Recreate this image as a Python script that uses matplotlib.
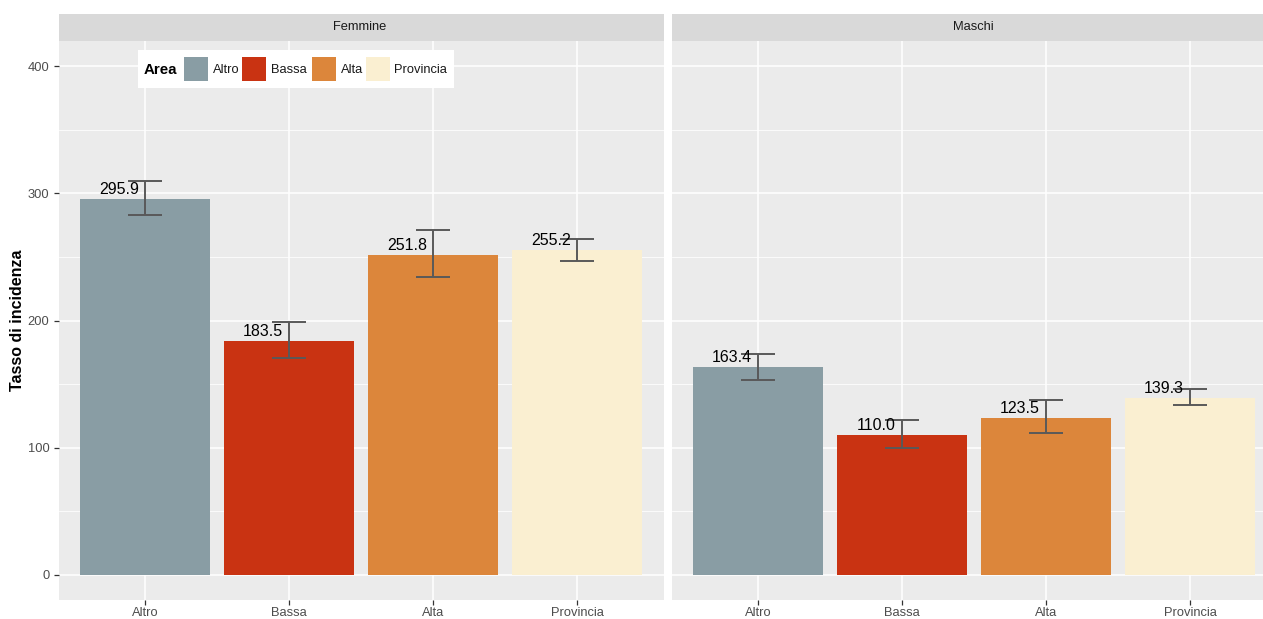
import matplotlib
matplotlib.use("Agg")
import matplotlib.pyplot as plt
from matplotlib.patches import Rectangle
import numpy as np

plt.rcParams['font.family'] = ['Liberation Sans', 'DejaVu Sans']

# ---- data ----
areas = ["Altro", "Bassa", "Alta", "Provincia"]
panels = ["Femmine", "Maschi"]
rate_f = [295.9, 183.5, 251.8, 255.2]
low_f = [282.8, 170.5, 233.9, 247.2]
high_f = [309.5, 198.5, 271.0, 264.5]
rate_m = [163.4, 110.0, 123.5, 139.3]
low_m = [153.4, 100.0, 111.8, 133.3]
high_m = [173.8, 122.0, 137.5, 146.4]
palette = ["#899DA4", "#C93312", "#DC863B", "#FAEFD1"]

W, H = 1263, 619
fig = plt.figure(figsize=(W / 100, H / 100), dpi=100)
fig.patch.set_facecolor("white")


def fx(x):
    return x / W


def fy(y):
    return (H - y) / H


panel_top, panel_bot = 41, 600
strip_h = 27
lefts = [58.5, 671.5]
pw = 605
strip_centers = [360, 973]

series = [(rate_f, low_f, high_f), (rate_m, low_m, high_m)]
axes = []
for i, (name, (vals, lo, hi)) in enumerate(zip(panels, series)):
    ax = fig.add_axes([fx(lefts[i]), fy(panel_bot), pw / W, (panel_bot - panel_top) / H])
    axes.append(ax)
    ax.set_facecolor("#EBEBEB")
    for s in ax.spines.values():
        s.set_visible(False)
    x = np.arange(1, len(areas) + 1)
    ax.set_xlim(0.4, 4.6)
    ax.set_ylim(-20, 420)
    # grid
    for yv in [50, 150, 250, 350]:
        ax.axhline(yv, color="white", lw=0.55, zorder=0)
    for yv in [0, 100, 200, 300, 400]:
        ax.axhline(yv, color="white", lw=1.1, zorder=0)
    for xv in x:
        ax.axvline(xv, color="white", lw=1.1, zorder=0)
    ax.bar(x, vals, width=0.9, color=palette, zorder=2)
    err = [np.array(vals) - np.array(lo), np.array(hi) - np.array(vals)]
    ax.errorbar(x, vals, yerr=err, fmt="none", ecolor="#595959", elinewidth=1.4,
                capsize=12.5, capthick=1.4, zorder=3)
    for xi, v in zip(x, vals):
        ax.annotate(f"{v:.1f}", (xi - 0.18, v), xytext=(0, 3.6), textcoords="offset points",
                    ha="center", va="baseline", fontsize=11.5, color="black", zorder=4)
    ax.set_xticks(x)
    ax.set_xticklabels(areas, fontsize=9.3, color="#4D4D4D")
    ax.tick_params(axis="x", length=3.5, width=0.9, color="#333333", pad=1.5)
    if i == 0:
        ax.set_yticks([0, 100, 200, 300, 400])
        ax.set_yticklabels(["0", "100", "200", "300", "400"], fontsize=9.3, color="#4D4D4D")
        ax.tick_params(axis="y", length=3.5, width=0.9, color="#333333", pad=3)
        ax.set_ylabel("Tasso di incidenza", fontsize=11.5, fontweight="bold",
                      color="black", labelpad=2)
    else:
        ax.set_yticks([])
    # facet strip
    ax.add_patch(Rectangle((0, 1), 1, strip_h / (panel_bot - panel_top), transform=ax.transAxes,
                           facecolor="#D9D9D9", edgecolor="none", clip_on=False))
    fig.text(fx(strip_centers[i]), fy(panel_top - strip_h / 2), name,
             ha="center", va="center", fontsize=9.3, color="#1A1A1A")

# legend inside the first panel
lx0, ly0, lx1, ly1 = 137.5, 50, 454, 88
fig.patches.append(Rectangle((fx(lx0), fy(ly1)), (lx1 - lx0) / W, (ly1 - ly0) / H,
                             transform=fig.transFigure, facecolor="white", edgecolor="none", zorder=5))
fig.text(fx(144), fy(70), "Area", fontsize=10.8, fontweight="bold", color="black",
         ha="left", va="center", zorder=6)
key_x = [184, 242, 312, 365.5]
for kx, lab, col in zip(key_x, areas, palette):
    fig.patches.append(Rectangle((fx(kx), fy(80.5)), 24 / W, 23.5 / H, transform=fig.transFigure,
                                 facecolor=col, edgecolor="none", zorder=6))
    fig.text(fx(kx + 28.5), fy(70), lab, fontsize=9.3, color="#1A1A1A", ha="left", va="center", zorder=6)

fig.savefig("out.png", dpi=100, facecolor="white")
